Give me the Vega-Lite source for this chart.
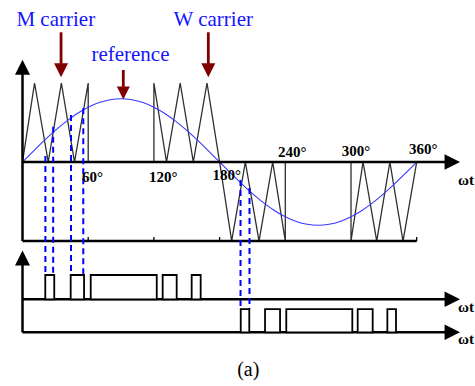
{
  "$schema": "https://vega.github.io/schema/vega-lite/v6.json",
  "width": 475,
  "height": 386,
  "autosize": "none",
  "padding": 0,
  "background": "white",
  "config": {"view": {"stroke": null}},
  "datasets": {
    "carriers": [
      {"s": "A", "i": 0, "deg": 0, "v": 0}, {"s": "A", "i": 1, "deg": 11, "v": 1}, {"s": "A", "i": 2, "deg": 23.5, "v": 0}, {"s": "A", "i": 3, "deg": 35.5, "v": 1}, {"s": "A", "i": 4, "deg": 47.5, "v": 0}, {"s": "A", "i": 5, "deg": 60, "v": 1}, {"s": "A", "i": 6, "deg": 60, "v": 0},
      {"s": "B", "i": 0, "deg": 120, "v": 0}, {"s": "B", "i": 1, "deg": 120, "v": 1}, {"s": "B", "i": 2, "deg": 131.5, "v": 0}, {"s": "B", "i": 3, "deg": 144, "v": 1}, {"s": "B", "i": 4, "deg": 156, "v": 0}, {"s": "B", "i": 5, "deg": 168.5, "v": 1}, {"s": "B", "i": 6, "deg": 180, "v": 0},
      {"s": "C", "i": 0, "deg": 180, "v": 0}, {"s": "C", "i": 1, "deg": 191, "v": -1}, {"s": "C", "i": 2, "deg": 203.5, "v": 0}, {"s": "C", "i": 3, "deg": 216, "v": -1}, {"s": "C", "i": 4, "deg": 228.5, "v": 0}, {"s": "C", "i": 5, "deg": 240, "v": -1}, {"s": "C", "i": 6, "deg": 240, "v": 0},
      {"s": "D", "i": 0, "deg": 300, "v": 0}, {"s": "D", "i": 1, "deg": 300, "v": -1}, {"s": "D", "i": 2, "deg": 311, "v": 0}, {"s": "D", "i": 3, "deg": 323.5, "v": -1}, {"s": "D", "i": 4, "deg": 335.5, "v": 0}, {"s": "D", "i": 5, "deg": 347.5, "v": -1}, {"s": "D", "i": 6, "deg": 360, "v": 0}
    ],
    "sine": [
      {"deg": 0, "v": 0}, {"deg": 10, "v": 0.139}, {"deg": 20, "v": 0.274}, {"deg": 30, "v": 0.4}, {"deg": 40, "v": 0.514}, {"deg": 50, "v": 0.613}, {"deg": 60, "v": 0.693}, {"deg": 70, "v": 0.752}, {"deg": 80, "v": 0.788}, {"deg": 90, "v": 0.8},
      {"deg": 100, "v": 0.788}, {"deg": 110, "v": 0.752}, {"deg": 120, "v": 0.693}, {"deg": 130, "v": 0.613}, {"deg": 140, "v": 0.514}, {"deg": 150, "v": 0.4}, {"deg": 160, "v": 0.274}, {"deg": 170, "v": 0.139}, {"deg": 180, "v": 0},
      {"deg": 190, "v": -0.139}, {"deg": 200, "v": -0.274}, {"deg": 210, "v": -0.4}, {"deg": 220, "v": -0.514}, {"deg": 230, "v": -0.613}, {"deg": 240, "v": -0.693}, {"deg": 250, "v": -0.752}, {"deg": 260, "v": -0.788}, {"deg": 270, "v": -0.8},
      {"deg": 280, "v": -0.788}, {"deg": 290, "v": -0.752}, {"deg": 300, "v": -0.693}, {"deg": 310, "v": -0.613}, {"deg": 320, "v": -0.514}, {"deg": 330, "v": -0.4}, {"deg": 340, "v": -0.274}, {"deg": 350, "v": -0.139}, {"deg": 360, "v": 0}
    ],
    "axes": [
      {"s": "xa", "i": 0, "deg": 0, "v": 0}, {"s": "xa", "i": 1, "deg": 386, "v": 0},
      {"s": "ya", "i": 0, "deg": 0, "v": -1}, {"s": "ya", "i": 1, "deg": 0, "v": 1.13},
      {"s": "fr", "i": 0, "deg": 0, "v": -1}, {"s": "fr", "i": 1, "deg": 360, "v": -1},
      {"s": "lya", "i": 0, "deg": 0, "v": -1.3}, {"s": "lya", "i": 1, "deg": 0, "v": -2.156},
      {"s": "b1", "i": 0, "deg": 0, "v": -1.738}, {"s": "b1", "i": 1, "deg": 386, "v": -1.738},
      {"s": "b2", "i": 0, "deg": 0, "v": -2.156}, {"s": "b2", "i": 1, "deg": 386, "v": -2.156}
    ],
    "rightheads": [{"deg": 392.5, "v": 0}, {"deg": 392.5, "v": -1.738}, {"deg": 392.5, "v": -2.156}],
    "upheads": [{"deg": 0, "v": 1.2}, {"deg": 0, "v": -1.215}],
    "ticks": [{"deg": 60, "v": -1, "v2": -0.95}, {"deg": 120, "v": -1, "v2": -0.95}, {"deg": 180, "v": -1, "v2": -0.95}, {"deg": 360, "v": -1, "v2": -0.95}],
    "dashed": [
      {"deg": 20.9, "v": 0.076, "v2": -1.43}, {"deg": 28.0, "v": 0.447, "v2": -1.43}, {"deg": 44.3, "v": 0.595, "v2": -1.43}, {"deg": 55.5, "v": 0.68, "v2": -1.43},
      {"deg": 199.1, "v": -0.228, "v2": -1.861}, {"deg": 207.3, "v": -0.329, "v2": -1.861}
    ],
    "pulses": [
      {"deg": 20.8, "deg2": 29.0, "v": -1.738, "v2": -1.43}, {"deg": 44.0, "deg2": 56.2, "v": -1.738, "v2": -1.43}, {"deg": 62.3, "deg2": 122.6, "v": -1.738, "v2": -1.43}, {"deg": 128.0, "deg2": 140.8, "v": -1.738, "v2": -1.43}, {"deg": 154.5, "deg2": 162.7, "v": -1.738, "v2": -1.43},
      {"deg": 199.3, "deg2": 207.1, "v": -2.156, "v2": -1.861}, {"deg": 221.5, "deg2": 235.2, "v": -2.156, "v2": -1.861}, {"deg": 240.9, "deg2": 301.2, "v": -2.156, "v2": -1.861}, {"deg": 306.1, "deg2": 319.8, "v": -2.156, "v2": -1.861}, {"deg": 333.2, "deg2": 341.1, "v": -2.156, "v2": -1.861}
    ],
    "shafts": [{"deg": 35.2, "v": 1.642, "v2": 1.23}, {"deg": 169.7, "v": 1.642, "v2": 1.23}, {"deg": 92.05, "v": 1.165, "v2": 0.93}],
    "bigheads": [{"deg": 35.2, "v": 1.161}, {"deg": 169.7, "v": 1.161}],
    "refhead": [{"deg": 92.05, "v": 0.873}],
    "bluetext": [{"deg": 30.4, "v": 1.725, "t": "M carrier"}, {"deg": 98.6, "v": 1.278, "t": "reference"}, {"deg": 174.2, "v": 1.725, "t": "W carrier"}],
    "degtext": [
      {"deg": 63.9, "v": -0.249, "t": "60°"}, {"deg": 128.6, "v": -0.249, "t": "120°"}, {"deg": 186.5, "v": -0.228, "t": "180°"},
      {"deg": 246.4, "v": 0.067, "t": "240°"}, {"deg": 304.6, "v": 0.08, "t": "300°"}, {"deg": 366, "v": 0.097, "t": "360°"},
      {"deg": 405, "v": -0.291, "t": "ωt"}, {"deg": 405, "v": -1.895, "t": "ωt"}, {"deg": 405, "v": -2.304, "t": "ωt"}
    ],
    "caption": [{"deg": 206.2, "v": -2.709, "t": "(a)"}]
  },
  "encoding": {
    "x": {"field": "deg", "type": "quantitative", "scale": {"domain": [-20.55, 413.24], "nice": false, "zero": false}, "axis": null},
    "y": {"field": "v", "type": "quantitative", "scale": {"domain": [-2.835, 2.0506], "nice": false, "zero": false}, "axis": null}
  },
  "layer": [
    {
      "data": {"name": "carriers"},
      "mark": {"type": "line", "color": "#2e2e2e", "strokeWidth": 1.3},
      "encoding": {"detail": {"field": "s"}, "order": {"field": "i", "type": "quantitative"}}
    },
    {
      "data": {"name": "sine"},
      "mark": {"type": "line", "color": "#3838ff", "strokeWidth": 1.1, "interpolate": "monotone"},
      "encoding": {}
    },
    {
      "data": {"name": "ticks"},
      "mark": {"type": "rule", "color": "black", "strokeWidth": 1.3},
      "encoding": {"y2": {"field": "v2"}}
    },
    {
      "data": {"name": "axes"},
      "mark": {"type": "line", "color": "black", "strokeWidth": 2.5, "strokeCap": "butt"},
      "encoding": {"detail": {"field": "s"}, "order": {"field": "i", "type": "quantitative"}}
    },
    {
      "data": {"name": "rightheads"},
      "mark": {"type": "point", "shape": "M-1,-1L1,0L-1,1Z", "filled": true, "color": "black", "opacity": 1, "size": 240, "strokeWidth": 0}
    },
    {
      "data": {"name": "upheads"},
      "mark": {"type": "point", "shape": "M-1,1L0,-1L1,1Z", "filled": true, "color": "black", "opacity": 1, "size": 225, "strokeWidth": 0}
    },
    {
      "data": {"name": "dashed"},
      "mark": {"type": "rule", "color": "#0000ff", "strokeWidth": 2, "strokeDash": [6, 4]},
      "encoding": {"y2": {"field": "v2"}}
    },
    {
      "data": {"name": "pulses"},
      "mark": {"type": "rect", "fill": "white", "stroke": "black", "strokeWidth": 1.8},
      "encoding": {"x2": {"field": "deg2"}, "y2": {"field": "v2"}}
    },
    {
      "data": {"name": "shafts"},
      "mark": {"type": "rule", "color": "#800000", "strokeWidth": 2.8},
      "encoding": {"y2": {"field": "v2"}}
    },
    {
      "data": {"name": "bigheads"},
      "mark": {"type": "point", "shape": "M-1,-1L1,-1L0,1Z", "filled": true, "color": "#800000", "opacity": 1, "size": 196, "strokeWidth": 0}
    },
    {
      "data": {"name": "refhead"},
      "mark": {"type": "point", "shape": "M-1,-1L1,-1L0,1Z", "filled": true, "color": "#800000", "opacity": 1, "size": 169, "strokeWidth": 0}
    },
    {
      "data": {"name": "bluetext"},
      "mark": {"type": "text", "font": "Liberation Serif", "fontSize": 21, "color": "#1414ff", "align": "center", "baseline": "alphabetic"},
      "encoding": {"text": {"field": "t"}}
    },
    {
      "data": {"name": "degtext"},
      "mark": {"type": "text", "font": "Liberation Serif", "fontSize": 15, "fontWeight": "bold", "color": "black", "align": "center", "baseline": "alphabetic"},
      "encoding": {"text": {"field": "t"}}
    },
    {
      "data": {"name": "caption"},
      "mark": {"type": "text", "font": "Liberation Serif", "fontSize": 20, "color": "black", "align": "center", "baseline": "alphabetic"},
      "encoding": {"text": {"field": "t"}}
    }
  ]
}
